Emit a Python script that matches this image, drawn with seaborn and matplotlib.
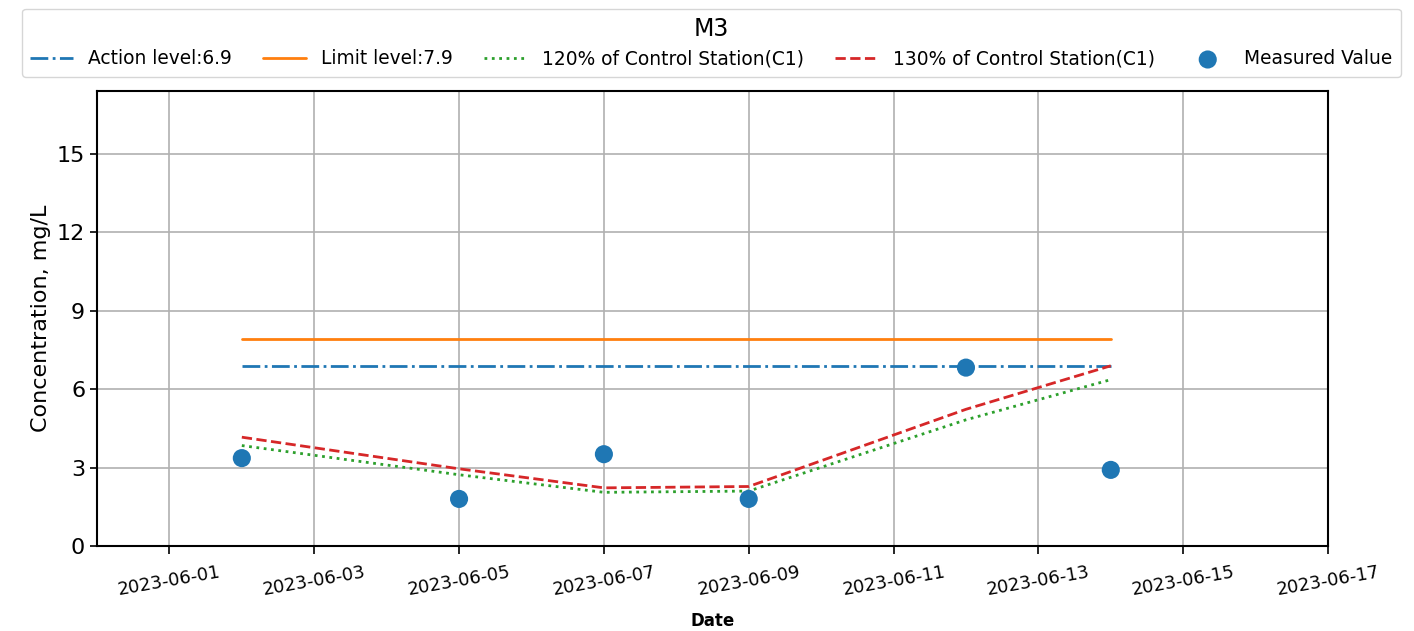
import pandas as pd
import seaborn as sns
import matplotlib.pyplot as plt
import matplotlib.dates as mdates

dates = ['2023-06-02', '2023-06-05', '2023-06-07', '2023-06-09', '2023-06-12', '2023-06-14']
measured = [3.36, 1.80, 3.51, 1.80, 6.82, 2.91]
control_c1 = [3.20, 2.27, 1.71, 1.75, 4.02, 5.30]
action_level = 6.9
limit_level = 7.9

df = pd.DataFrame({'date': pd.to_datetime(dates), 'value': measured, 'c1': control_c1})
df['action'] = action_level
df['limit'] = limit_level
df['c120'] = df['c1'] * 1.2
df['c130'] = df['c1'] * 1.3

sns.set_style('ticks')
plt.rcParams['text.color'] = 'black'
plt.rcParams['axes.labelcolor'] = 'black'
plt.rcParams['xtick.color'] = 'black'
plt.rcParams['ytick.color'] = 'black'

fig = plt.figure(figsize=(14.14, 6.31), dpi=100)
ax = fig.add_axes([0.0686, 0.1347, 0.8706, 0.7213])

sns.lineplot(data=df, x='date', y='action', ax=ax, color='#1f77b4', linestyle='-.', lw=2,
             label='Action level:' + str(action_level))
sns.lineplot(data=df, x='date', y='limit', ax=ax, color='#ff7f0e', linestyle='-', lw=2,
             label='Limit level:' + str(limit_level))
sns.lineplot(data=df, x='date', y='c120', ax=ax, color='#2ca02c', linestyle=':', lw=2,
             label='120% of Control Station(C1)')
sns.lineplot(data=df, x='date', y='c130', ax=ax, color='#d62728', linestyle='--', lw=2,
             label='130% of Control Station(C1)')
sns.scatterplot(data=df, x='date', y='value', ax=ax, color='#1f77b4', s=170, edgecolor='none',
                label='Measured Value', zorder=5)

ax.set_xlim(pd.Timestamp('2023-05-31'), pd.Timestamp('2023-06-17'))
ax.set_ylim(0, 17.4)
ax.set_yticks([0, 3, 6, 9, 12, 15])
ax.xaxis.set_major_locator(mdates.DayLocator(bymonthday=range(1, 30, 2)))
ax.xaxis.set_major_formatter(mdates.DateFormatter('%Y-%m-%d'))
ax.grid(True, color='#b0b0b0', lw=1.2)
for s in ax.spines.values():
    s.set_color('black')
    s.set_linewidth(1.5)
ax.tick_params(axis='y', labelsize=16, length=5, width=1.2)
ax.tick_params(axis='x', labelsize=13, rotation=10, length=6, width=1.2, pad=6)
ax.set_xlabel('Date', fontsize=12, fontweight='bold', labelpad=10)
ax.set_ylabel('Concentration, mg/L', fontsize=16)

ax.legend(loc='lower left', bbox_to_anchor=(-0.061, 1.031, 1.12, 0.15), mode='expand', ncol=5,
          title='M3', title_fontsize=17, fontsize=13.4, frameon=True, edgecolor='#cccccc',
          borderaxespad=0, handlelength=2.3, borderpad=0.45, labelspacing=0.45)

plt.savefig('out.png', dpi=100)
